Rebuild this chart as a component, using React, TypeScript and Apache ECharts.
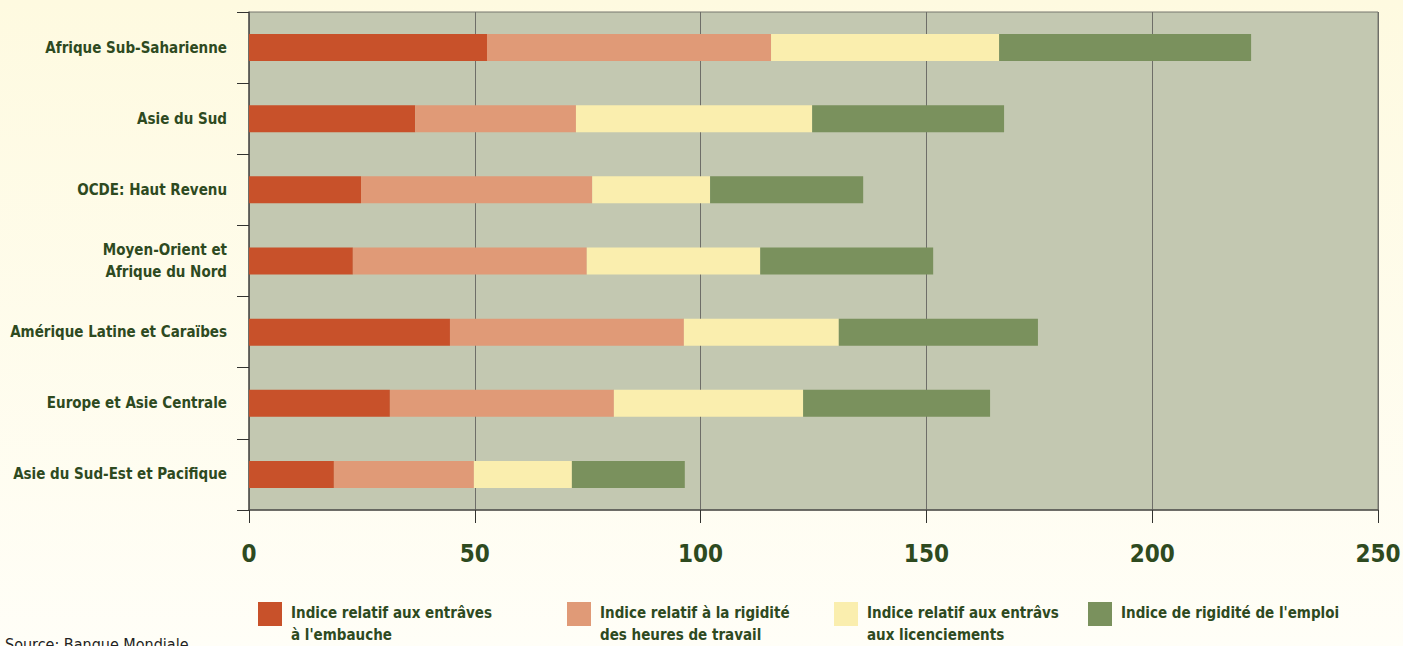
import React, { useEffect, useRef } from "react";
import * as echarts from "echarts";

const categories = [
  "Afrique Sub-Saharienne",
  "Asie du Sud",
  "OCDE: Haut Revenu",
  "Moyen-Orient et\nAfrique du Nord",
  "Amérique Latine et Caraïbes",
  "Europe et Asie Centrale",
  "Asie du Sud-Est et Pacifique",
];

const seriesNames = [
  "Indice relatif aux entrâves\nà l'embauche",
  "Indice relatif à la rigidité\ndes heures de travail",
  "Indice relatif aux entrâvs\naux licenciements",
  "Indice de rigidité de l'emploi",
];

const embauche = [52.7, 36.8, 24.8, 23.0, 44.5, 31.2, 18.8];
const heures = [62.9, 35.6, 51.2, 51.8, 51.8, 49.6, 31.0];
const licenciements = [50.5, 52.3, 26.1, 38.4, 34.3, 41.9, 21.7];
const emploi = [55.8, 42.5, 33.9, 38.3, 44.1, 41.4, 25.0];

const xTicks = [0, 50, 100, 150, 200, 250];

const colors = ["#C8512A", "#E09A77", "#FAEEAE", "#7A915D"];
const legendLeft = [258, 567, 834, 1088];

const FONT = "'Liberation Sans Narrow', 'DejaVu Sans Condensed', sans-serif";
const TEXT = "#2E4A1F";
// square in the top part of a 24x44 box, so it lines up with the first text line
const LEGEND_ICON = "path://M0,0L24,0L24,24L0,24Z M0,44L0.01,44L0.01,43.99Z";

export default function App() {
  const ref = useRef<HTMLDivElement>(null);
  useEffect(() => {
    if (!ref.current) return;
    const chart = echarts.init(ref.current, undefined, { renderer: "svg" });
    const values = [embauche, heures, licenciements, emploi];
    chart.setOption({
      animation: false,
      backgroundColor: {
        type: "linear",
        x: 0, y: 0, x2: 0, y2: 1,
        colorStops: [
          { offset: 0, color: "#FEFAE0" },
          { offset: 1, color: "#FFFEF7" },
        ],
      },
      textStyle: { fontFamily: FONT },
      grid: {
        left: 249,
        right: 25,
        top: 12,
        bottom: 136,
        show: true,
        backgroundColor: "#C3C8B1",
        borderColor: "#77776E",
        borderWidth: 1,
        containLabel: false,
        outerBoundsMode: "none",
      },
      xAxis: {
        type: "value",
        min: xTicks[0],
        max: xTicks[xTicks.length - 1],
        interval: 50,
        axisLine: { show: true, lineStyle: { color: "#555550", width: 1.5 } },
        axisTick: { show: true, length: 13, lineStyle: { color: "#333330" } },
        splitLine: { show: true, lineStyle: { color: "#6E6E68", width: 1 } },
        axisLabel: {
          color: TEXT,
          fontFamily: FONT,
          fontWeight: "bold",
          fontSize: 24,
          margin: 32,
        },
      },
      yAxis: {
        type: "category",
        data: categories,
        inverse: true,
        axisLine: { show: true, lineStyle: { color: "#555550", width: 1.5 } },
        axisTick: { show: true, length: 12, lineStyle: { color: "#333330" } },
        axisLabel: {
          color: TEXT,
          fontFamily: FONT,
          fontWeight: "bold",
          fontSize: 15,
          margin: 22,
          lineHeight: 22,
        },
      },
      legend: seriesNames.map((n, i) => ({
        data: [{ name: n, icon: LEGEND_ICON }],
        left: legendLeft[i],
        top: 602,
        padding: 0,
        orient: "horizontal",
        itemWidth: 24,
        itemHeight: 44,
        formatter: (name: string) => (name.indexOf("\n") >= 0 ? name : name + "\n "),
        textStyle: {
          color: TEXT,
          fontFamily: FONT,
          fontWeight: "bold",
          fontSize: 15,
          lineHeight: 22,
          padding: [0, 0, 0, 4],
        },
      })),
      graphic: [
        {
          type: "text",
          left: 5,
          top: 636,
          style: {
            text: "Source: Banque Mondiale",
            fill: "#222222",
            fontFamily: FONT,
            fontSize: 16,
          },
        },
      ],
      series: seriesNames.map((n, i) => ({
        name: n,
        type: "bar",
        stack: "total",
        data: values[i],
        barWidth: 27,
        itemStyle: { color: colors[i] },
      })),
    });
    return () => chart.dispose();
  }, []);
  return (
    <div
      ref={ref}
      style={{ position: "fixed", left: 0, top: 0, width: 1403, height: 646 }}
    />
  );
}
